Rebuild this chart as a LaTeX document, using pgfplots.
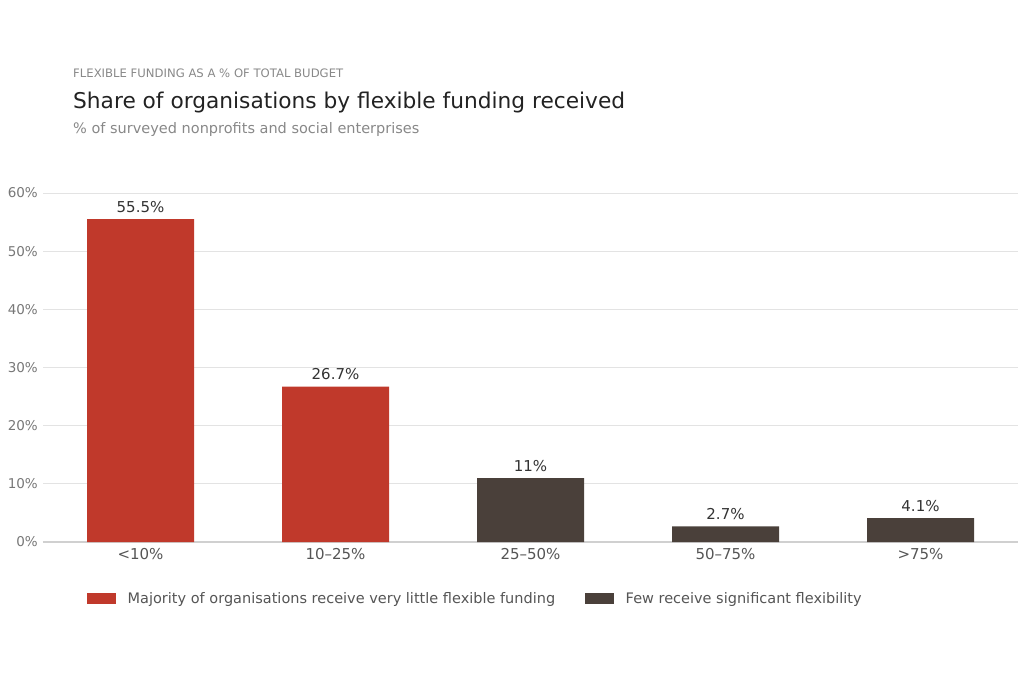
\documentclass[border=0pt]{standalone}
\usepackage{fontspec}
\setmainfont{DejaVu Sans}
\usepackage{pgfplots}
\pgfplotsset{compat=1.18}
\definecolor{cred}{HTML}{C0392B}
\definecolor{cdark}{HTML}{4A403A}
\definecolor{ctitle}{HTML}{222222}
\definecolor{csub}{HTML}{888888}
\definecolor{ctick}{HTML}{777777}
\definecolor{cgrid}{HTML}{E3E3E3}
\definecolor{cbase}{HTML}{D0D0D0}
\definecolor{cval}{HTML}{333333}
\definecolor{ccat}{HTML}{555555}
\begin{document}
\begin{tikzpicture}
\useasboundingbox (0pt,0pt) rectangle (1024pt,-680pt);
\node[anchor=base west, inner sep=0pt, text=csub, font=\fontsize{11.65}{14}\selectfont] at (73pt,-77pt) {FLEXIBLE FUNDING AS A \% OF TOTAL BUDGET};
\node[anchor=base west, inner sep=0pt, text=ctitle, font=\fontsize{21.7}{26}\selectfont] at (73pt,-108.5pt) {Share of organisations by flexible funding received};
\node[anchor=base west, inner sep=0pt, text=csub, font=\fontsize{14.5}{17}\selectfont] at (73pt,-133pt) {\% of surveyed nonprofits and social enterprises};
\begin{axis}[
  at={(43pt,-542pt)}, anchor=south west,
  scale only axis, width=975pt, height=349pt,
  xmin=-0.5, xmax=4.5, ymin=0, ymax=60,
  ybar, bar width=107pt, bar shift=0pt,
  axis x line*=bottom, axis y line*=left,
  x axis line style={draw=cbase, line width=1.2pt, -},
  y axis line style={draw=none},
  major tick length=0pt,
  ymajorgrids, grid style={draw=cgrid, line width=0.9pt},
  xtick={0,1,2,3,4},
  xticklabels={<10\%, 10–25\%, 25–50\%, 50–75\%, >75\%},
  ytick={0,10,20,30,40,50,60},
  /pgf/number format/assume math mode=true,
  yticklabel={\pgfmathprintnumber{\tick}\%},
  yticklabel style={anchor=east, inner sep=0pt, xshift=-5pt, text=ctick, font=\fontsize{13.5}{16}\selectfont},
  xticklabel style={anchor=north, inner sep=0pt, yshift=-6.5pt, text=ccat, font=\fontsize{15}{18}\selectfont},
  nodes near coords={\pgfmathprintnumber[assume math mode=true]{\pgfplotspointmeta}\%},
  nodes near coords style={anchor=south, inner sep=0pt, yshift=6.5pt, text=cval, font=\fontsize{15}{18}\selectfont},
  /pgf/number format/precision=1,
  clip=false,
  legend style={at={(0.0451,-0.1620)}, anchor=west, draw=none, fill=none, inner sep=0pt,
    font=\fontsize{14.5}{17}\selectfont, text=ccat,
    /tikz/every even column/.append style={column sep=18.5pt},
    nodes={inner xsep=11.5pt}},
  legend columns=2, legend cell align=left,
  legend image code/.code={\fill[#1] (0pt,-5.5pt) rectangle (29pt,5.5pt);},
]
\addplot[fill=cred, draw=none] coordinates {(0,55.5) (1,26.7)};
\addplot[fill=cdark, draw=none] coordinates {(2,11) (3,2.7) (4,4.1)};
\legend{Majority of organisations receive very little flexible funding, Few receive significant flexibility}
\end{axis}
\end{tikzpicture}
\end{document}
